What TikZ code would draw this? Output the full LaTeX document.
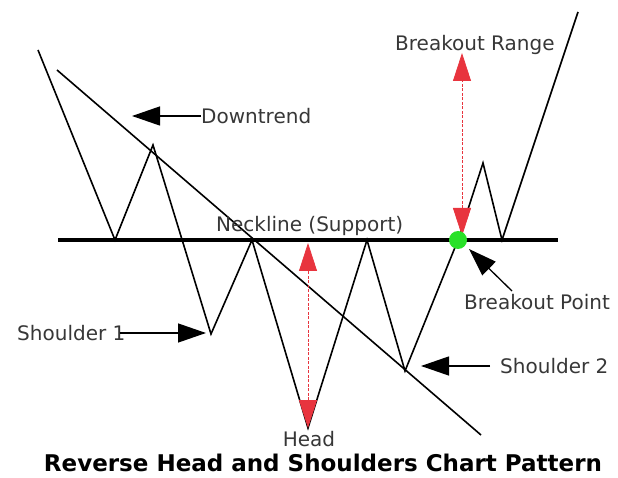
\documentclass[tikz,border=0pt]{standalone}
\usepackage{fontspec}
\setmainfont{DejaVu Sans}
\usetikzlibrary{arrows.meta}
\definecolor{labelgray}{RGB}{55,55,55}
\definecolor{arrowred}{RGB}{232,52,62}
\definecolor{dotgreen}{RGB}{40,225,40}
\tikzset{
  price/.style={line width=1.6pt, line join=miter},
  lbl/.style={inner sep=0pt, text=labelgray, font=\fontsize{20}{23}\selectfont},
  pointer/.style={line width=1.3pt, -{Triangle[length=28pt,width=19pt]}},
  rangearrow/.style={arrowred, line width=0.8pt, dash pattern=on 3pt off 1.5pt,
    {Triangle[length=28pt,width=18pt]}-{Triangle[length=28pt,width=18pt]}}
}
\begin{document}
\begin{tikzpicture}[x=1pt,y=-1pt]
  \useasboundingbox (0,0) rectangle (618,478);
  % price path
  \coordinate (p0) at (38,50);
  \coordinate (p1) at (115,240);
  \coordinate (p2) at (153,145);
  \coordinate (p3) at (211,334);
  \coordinate (p4) at (252,240);
  \coordinate (p5) at (308,428);
  \coordinate (p6) at (367,240);
  \coordinate (p7) at (405,371);
  \coordinate (bo) at (458,240);
  \coordinate (p8) at (483,163);
  \coordinate (p9) at (502,240);
  \coordinate (p10) at (578,12);
  % neckline and trend line
  \coordinate (nkA) at (58,240);
  \coordinate (nkB) at (558,240);
  \coordinate (trA) at (57,70);
  \coordinate (trB) at (481,435);
  \draw[line width=3.4pt] (nkA) -- (nkB);
  \draw[line width=1.6pt] (trA) -- (trB);
  \draw[price] (p0) -- (p1) -- (p2) -- (p3) -- (p4) -- (p5) -- (p6) -- (p7)
    -- (bo) -- (p8) -- (p9) -- (p10);
  % labels
  \node[lbl, anchor=west] (neck) at (216,226) {Neckline (Support)};
  \node[lbl, anchor=west] (dtrend) at (201,116) {Downtrend};
  \node[lbl, anchor=west] (shA) at (17,333) {Shoulder 1};
  \node[lbl, anchor=west] (shB) at (500,366) {Shoulder 2};
  \node[lbl, anchor=west] (bpt) at (464,302) {Breakout Point};
  \node[lbl, anchor=west] (brng) at (395,45) {Breakout Range};
  \node[lbl] (head) at (309,439) {Head};
  \node[inner sep=0pt, font=\fontsize{23}{26}\selectfont\bfseries] (title) at (323,463)
    {Reverse Head and Shoulders Chart Pattern};
  % black pointers
  \coordinate (dtTip) at (132,116);
  \coordinate (shATip) at (206,333);
  \coordinate (shBTip) at (421,366);
  \coordinate (shBTail) at (490,366);
  \coordinate (bpTip) at (469,249);
  \coordinate (bpTail) at (512,291);
  \draw[pointer] (dtrend.west) -- (dtTip);
  \draw[pointer] ([xshift=-6pt]shA.east) -- (shATip);
  \draw[pointer] (shBTail) -- (shBTip);
  \draw[pointer] (bpTail) -- (bpTip);
  % red ranges
  \coordinate (hdUp) at (308,243);
  \coordinate (hdDn) at (308,428);
  \coordinate (brUp) at (462,53);
  \coordinate (brDn) at (462,236);
  \draw[rangearrow] (hdDn) -- (hdUp);
  \draw[rangearrow] (brDn) -- (brUp);
  % breakout dot
  \fill[dotgreen] (bo) circle (9);
\end{tikzpicture}
\end{document}
